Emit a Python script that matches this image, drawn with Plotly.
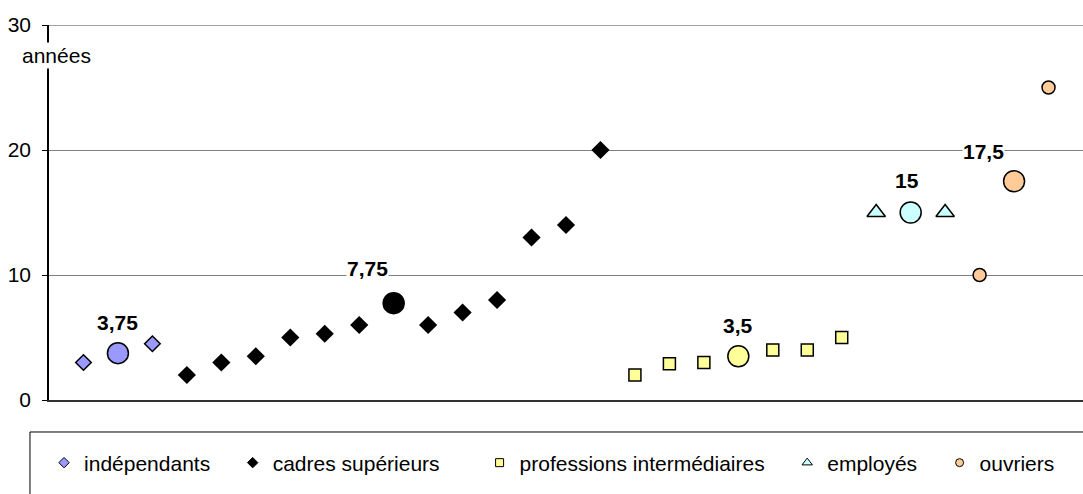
import plotly.graph_objects as go

# ---- data ----
series_names = ["indépendants", "cadres supérieurs", "professions intermédiaires", "employés", "ouvriers"]

indep_pos = [1, 3]
indep_vals = [3, 4.5]
cadres_pos = [4, 5, 6, 7, 8, 9, 11, 12, 13, 14, 15, 16]
cadres_vals = [2, 3, 3.5, 5, 5.3, 6, 6, 7, 8, 13, 14, 20]
prof_pos = [17, 18, 19, 21, 22, 23]
prof_vals = [2, 2.9, 3, 4, 4, 5]
empl_pos = [24, 26]
empl_vals = [15, 15]
ouvr_pos = [27, 29]
ouvr_vals = [10, 25]

mean_pos = [2, 10, 20, 25, 28]
mean_vals = [3.75, 7.75, 3.5, 15, 17.5]
mean_labels = ["3,75", "7,75", "3,5", "15", "17,5"]

y_ticks = [0, 10, 20, 30]
y_max = 30

# ---- styles ----
FONT = "Liberation Sans, Arial, sans-serif"
FS = 21
fills = ["#9999FF", "#000000", "#FFFF99", "#CCFFFF", "#FFCC99"]
symbols = ["diamond", "diamond", "square", "triangle-up", "circle"]
sizes = [12, 14, 12, 16, 13]
line_w = [1.5, 0, 1.5, 1.5, 1.5]
legend_sizes = [8, 8, 8, 9, 8]
legend_pad = [3, 6, 3, 3, 0]
label_shift_x = [0, -26, 0, -4, -31]
label_shift_y = [31, 35, 31, 32, 30]

pos_list = [indep_pos, cadres_pos, prof_pos, empl_pos, ouvr_pos]
val_list = [indep_vals, cadres_vals, prof_vals, empl_vals, ouvr_vals]

fig = go.Figure()

for i, name in enumerate(series_names):
    fig.add_trace(go.Scatter(
        x=pos_list[i], y=val_list[i], mode="markers", name=name, showlegend=False,
        marker=dict(symbol=symbols[i], size=sizes[i], color=fills[i],
                    line=dict(color="black", width=line_w[i])),
        hoverinfo="skip"))

# mean circles
for i in range(len(mean_pos)):
    fig.add_trace(go.Scatter(
        x=[mean_pos[i]], y=[mean_vals[i]], mode="markers", showlegend=False,
        marker=dict(symbol="circle", size=21, color=fills[i],
                    line=dict(color="black", width=1.5)),
        hoverinfo="skip"))

# legend entries
for i, name in enumerate(series_names):
    fig.add_trace(go.Scatter(
        x=[None], y=[None], mode="markers", name=name + "\u00a0" * legend_pad[i],
        marker=dict(symbol=symbols[i], size=legend_sizes[i], color=fills[i],
                    line=dict(color="black", width=1))))

# mean labels
for i in range(len(mean_pos)):
    fig.add_annotation(
        x=mean_pos[i], y=mean_vals[i], text="<b>%s</b>" % mean_labels[i],
        showarrow=False, xshift=label_shift_x[i], yshift=label_shift_y[i],
        bgcolor="white", font=dict(family=FONT, size=FS, color="black"),
        borderpad=0)

# top grid line (at the range edge)
fig.add_shape(type="line", xref="paper", yref="y", x0=0, x1=1, y0=y_max, y1=y_max,
              line=dict(color="#808080", width=1.5), layer="below")

# y-axis title
fig.add_annotation(x=0.0077, xref="paper", xanchor="center", y=27.6, yref="y",
                   text="années", showarrow=False, bgcolor="white",
                   font=dict(family=FONT, size=FS, color="black"), borderpad=1)

# legend frame
fig.add_shape(type="rect", xref="paper", yref="paper",
              x0=-0.0184, x1=1.05, y0=-0.0853, y1=-0.3,
              line=dict(color="black", width=1), fillcolor="rgba(0,0,0,0)")

fig.update_layout(
    width=1083, height=494, autosize=False,
    margin=dict(l=49, r=0, t=25, b=94),
    paper_bgcolor="white", plot_bgcolor="white",
    font=dict(family=FONT, size=FS, color="black"),
    showlegend=True,
    legend=dict(orientation="h", x=-0.0048, xanchor="left", y=-0.168, yanchor="middle",
                font=dict(family=FONT, size=FS, color="black"),
                bgcolor="rgba(0,0,0,0)", borderwidth=0, itemsizing="trace"),
    xaxis=dict(range=[0, 30], showgrid=False, zeroline=False, showticklabels=False,
               showline=True, linecolor="#333333", linewidth=2, ticks=""),
    yaxis=dict(range=[0, y_max], tickvals=y_ticks, showgrid=True, gridcolor="#808080",
               gridwidth=1, zeroline=False, showline=True, linecolor="black",
               linewidth=1.5, ticks="outside", ticklen=5, tickcolor="black",
               ticklabelstandoff=7,
               tickfont=dict(family=FONT, size=FS, color="black")),
)

fig.write_html("out.html", config={"displayModeBar": False},
               post_script="document.body.style.margin='0';document.body.style.padding='0';")
